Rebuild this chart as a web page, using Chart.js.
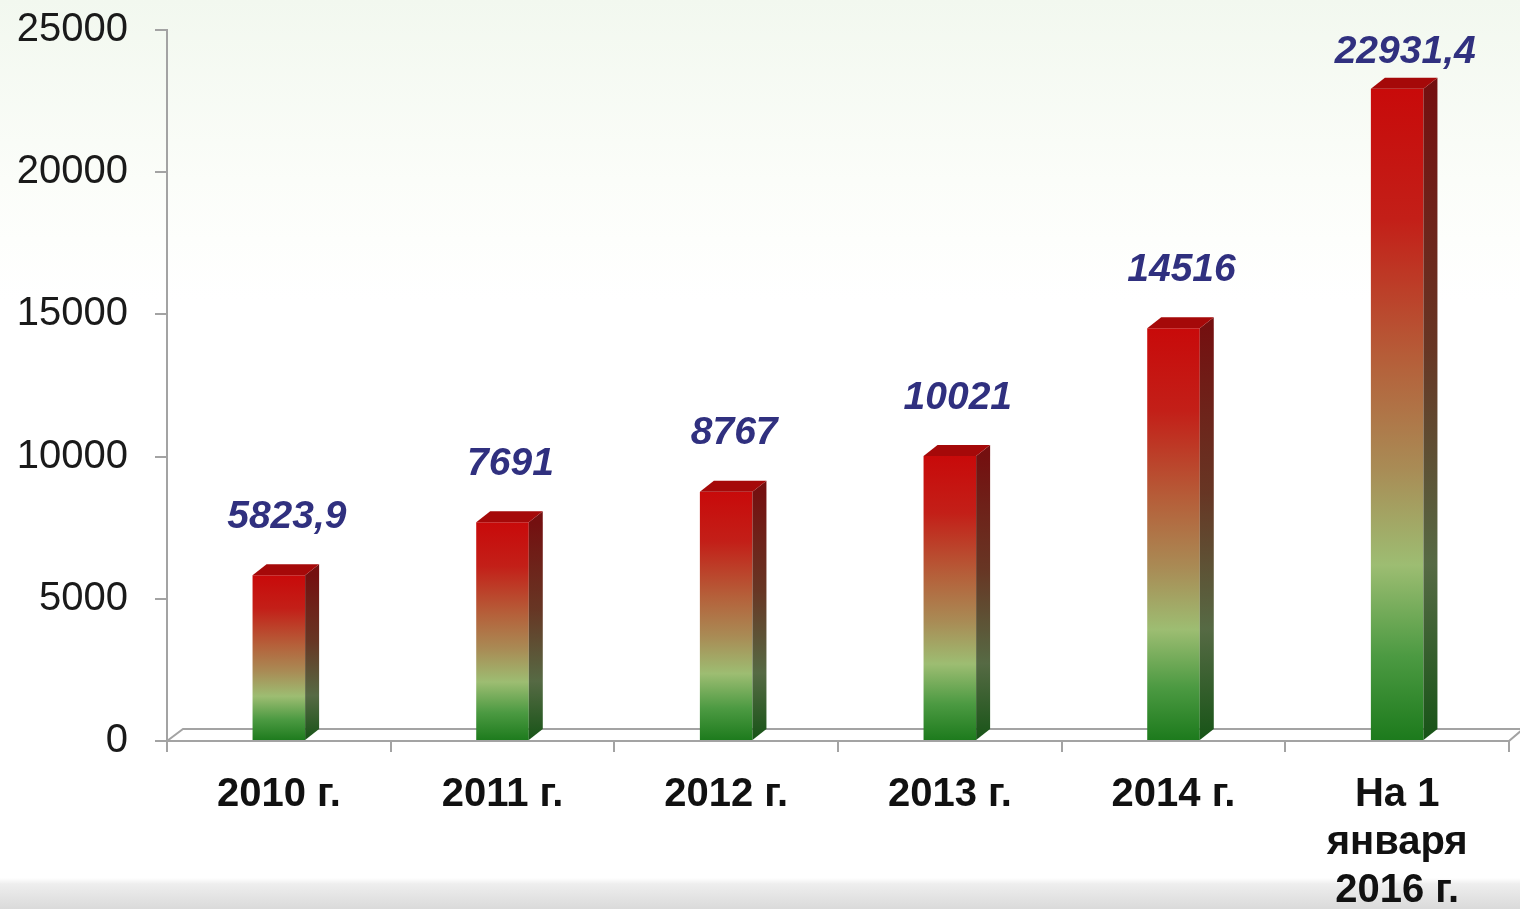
<!DOCTYPE html>
<html>
<head>
<meta charset="utf-8">
<script src="https://cdn.jsdelivr.net/npm/chart.js@4/dist/chart.umd.min.js"></script>
<style>
html,body{margin:0;padding:0;}
body{
  width:1520px;height:909px;overflow:hidden;
  background:linear-gradient(to bottom,#f2f8ef 0px,#fbfdf9 180px,#ffffff 300px,#ffffff 878px,#eeeeee 884px,#dadada 909px);
}
#wrap{position:relative;width:1520px;height:909px;}
</style>
</head>
<body>
<div id="wrap"><canvas id="chart" width="1520" height="909"></canvas></div>
<script>
const categories=["2010 г.","2011 г.","2012 г.","2013 г.","2014 г.",["На 1","января","2016 г."]];
const values=[5823.9,7691,8767,10021,14516,22931.4];
const valueLabels=["5823,9","7691","8767","10021","14516","22931,4"];
const yTicks=[0,5000,10000,15000,20000,25000];

const FONT="'Liberation Sans', Arial, sans-serif";
const DX=14, DY=11;

function frontGradient(ctx,top,bot){
  const g=ctx.createLinearGradient(0,top,0,bot);
  g.addColorStop(0,'#c80a0a');
  g.addColorStop(0.2,'#c31f18');
  g.addColorStop(0.42,'#b5603a');
  g.addColorStop(0.58,'#a98b55');
  g.addColorStop(0.73,'#9dbd72');
  g.addColorStop(0.87,'#4c9a42');
  g.addColorStop(1,'#1c7a1c');
  return g;
}
function sideGradient(ctx,top,bot){
  const g=ctx.createLinearGradient(0,top,0,bot);
  g.addColorStop(0,'#741010');
  g.addColorStop(0.4,'#673624');
  g.addColorStop(0.73,'#566a44');
  g.addColorStop(1,'#175417');
  return g;
}

/* floor of the 3D plot */
const floorPlugin={
  id:'floor',
  beforeDatasetsDraw(chart){
    const {ctx,chartArea:a}=chart;
    ctx.save();
    ctx.strokeStyle='#a3a3a3';
    ctx.lineWidth=2;
    ctx.beginPath();
    ctx.moveTo(a.left,a.bottom);
    ctx.lineTo(a.left+16,a.bottom-12);
    ctx.lineTo(a.right+14,a.bottom-12);
    ctx.lineTo(a.right,a.bottom);
    ctx.stroke();
    ctx.restore();
  }
};

/* side + top faces and value labels */
const bar3dPlugin={
  id:'bar3d',
  afterDatasetsDraw(chart){
    const {ctx}=chart;
    const meta=chart.getDatasetMeta(0);
    ctx.save();
    meta.data.forEach((bar,i)=>{
      const p=bar.getProps(['x','y','base','width'],true);
      const l=p.x-p.width/2, r=p.x+p.width/2;
      // side
      ctx.fillStyle=sideGradient(ctx,p.y,p.base);
      ctx.beginPath();
      ctx.moveTo(r,p.y);
      ctx.lineTo(r+DX,p.y-DY);
      ctx.lineTo(r+DX,p.base-DY);
      ctx.lineTo(r,p.base);
      ctx.closePath();
      ctx.fill();
      // top
      ctx.fillStyle='#a50909';
      ctx.beginPath();
      ctx.moveTo(l,p.y);
      ctx.lineTo(l+DX,p.y-DY);
      ctx.lineTo(r+DX,p.y-DY);
      ctx.lineTo(r,p.y);
      ctx.closePath();
      ctx.fill();
      // label (kept inside the top of the plot)
      ctx.font='italic bold 39px '+FONT;
      ctx.fillStyle='#30307f';
      ctx.textAlign='center';
      ctx.textBaseline='middle';
      ctx.fillText(valueLabels[i],p.x+8,Math.max(p.y-58,52));
    });
    ctx.restore();
  }
};

new Chart(document.getElementById('chart'),{
  type:'bar',
  data:{
    labels:categories,
    datasets:[{
      data:values,
      backgroundColor:function(c){
        const chart=c.chart;
        if(!chart.chartArea) return '#c00';
        const y=chart.scales.y;
        return frontGradient(chart.ctx,y.getPixelForValue(c.raw),y.getPixelForValue(0));
      },
      borderWidth:0,
      categoryPercentage:1,
      barPercentage:0.235
    }]
  },
  plugins:[floorPlugin,bar3dPlugin],
  options:{
    responsive:false,
    animation:false,
    layout:{padding:{top:30,right:11,left:0,bottom:0}},
    plugins:{legend:{display:false},tooltip:{enabled:false}},
    scales:{
      x:{
        afterFit(s){s.height=168;},
        grid:{drawOnChartArea:false,tickLength:11,color:'#a3a3a3',lineWidth:2},
        border:{display:true,color:'#a3a3a3',width:2},
        ticks:{
          color:'#111',padding:19,maxRotation:0,autoSkip:false,
          font:{family:FONT,size:40,weight:'bold',lineHeight:1.2}
        }
      },
      y:{
        min:0,max:25000,
        afterFit(s){s.width=167;s.paddingTop=0;s.paddingBottom=0;},
        afterBuildTicks(s){s.ticks=yTicks.map(v=>({value:v}));},
        grid:{drawOnChartArea:false,tickLength:12,color:'#a3a3a3',lineWidth:2},
        border:{display:true,color:'#a3a3a3',width:2},
        ticks:{
          color:'#1a1a1a',padding:27,
          font:{family:FONT,size:40},
          callback:v=>String(v)
        }
      }
    }
  }
});
</script>
</body>
</html>
